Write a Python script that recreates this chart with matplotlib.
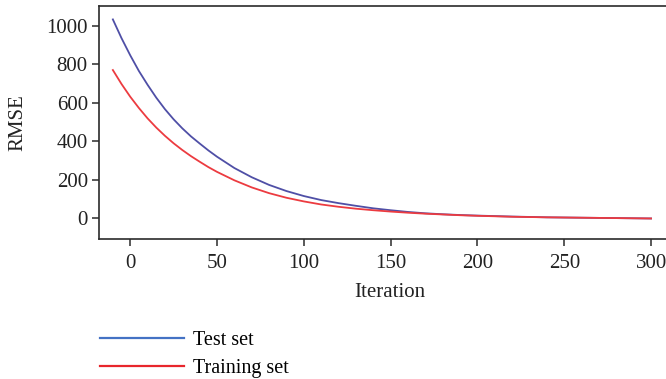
import matplotlib.pyplot as plt
from matplotlib.lines import Line2D

plt.rcParams['font.family'] = ['Liberation Serif', 'DejaVu Serif']

iteration = [-10, -5, 0, 5, 10, 15, 20, 25, 30, 35, 40, 45, 50, 60, 70, 80, 90, 100,
             110, 120, 130, 140, 150, 160, 170, 180, 190, 200, 220, 240, 260, 280, 300]
test_rmse = [1035, 937, 848, 766, 694, 627, 567, 514, 467, 425, 388, 352, 319, 260, 212, 172,
             140, 114, 93, 77, 63, 50, 40, 31, 24, 19, 15, 12, 7, 3, 1, -1, -3]
train_rmse = [771, 698, 632, 573, 519, 471, 428, 389, 354, 322, 293, 265, 240, 196, 159, 129,
              105, 86, 70, 58, 48, 40, 33, 27, 22, 18, 14, 11, 6, 3, 1, -1, -3]

test_color = '#4f4fa6'
train_color = '#ec3b40'

fig = plt.figure(figsize=(6.66, 3.79), dpi=100)
ax = fig.add_axes([0.1486, 0.3694, 0.8514, 0.6148])

ax.plot(iteration, test_rmse, color=test_color, lw=1.3)
ax.plot(iteration, train_rmse, color=train_color, lw=1.3)

ax.set_xlim(-18, 308.6)
ax.set_ylim(-110, 1105)
ax.set_xticks([0, 50, 100, 150, 200, 250, 300])
ax.set_yticks([0, 200, 400, 600, 800, 1000])

for s in ax.spines.values():
    s.set_color('#2b2b2b')
    s.set_linewidth(1.2)
ax.spines['right'].set_visible(False)
ax.tick_params(direction='out', length=5, width=1.1, color='#2b2b2b',
               labelsize=15, labelcolor='#222222')
ax.tick_params(axis='x', pad=6)
ax.tick_params(axis='y', pad=3)

ax.set_xlabel('Iteration', fontsize=15, color='#222222')
ax.set_ylabel('RMSE', fontsize=15, color='#222222')
ax.xaxis.set_label_coords((390 - 99) / 567, -0.19)
ax.yaxis.set_label_coords(-0.127, 0.5)

handles = [Line2D([], [], color='#4472c4', lw=1.6),
           Line2D([], [], color='#e8262c', lw=1.6)]
fig.legend(handles, ['Test set', 'Training set'], loc='upper left',
           bbox_to_anchor=(0.150, 0.127), frameon=False, fontsize=14.5,
           handlelength=4.2, handletextpad=0.4, labelspacing=0.45,
           borderaxespad=0, borderpad=0)

fig.savefig('out.png', dpi=100)
